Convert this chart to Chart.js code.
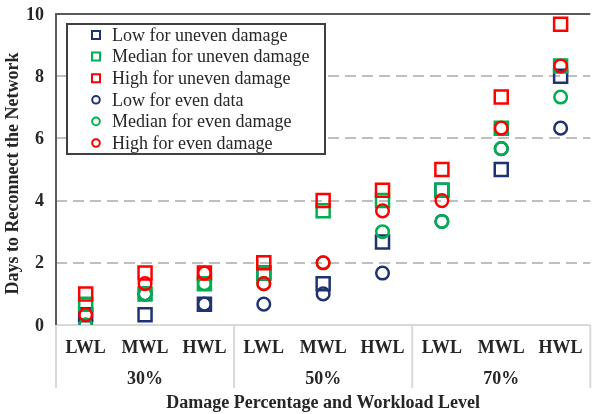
<!DOCTYPE html>
<html><head><meta charset="utf-8">
<script src="https://cdn.jsdelivr.net/npm/chart.js@4"></script>
<style>html,body{margin:0;padding:0;overflow:hidden;background:#fff}#wrap{width:602px;height:414px;position:relative}canvas{display:block}</style>
</head><body><div id="wrap"><canvas id="c" width="602" height="414"></canvas></div>
<script>
// ---- data ----
const categories = ['LWL','MWL','HWL','LWL','MWL','HWL','LWL','MWL','HWL'];
const groups = ['30%','50%','70%'];
const yTicks = [0,2,4,6,8,10];
const seriesNames = ['Low for uneven damage','Median for uneven damage','High for uneven damage','Low for even data','Median for even damage','High for even damage'];
const lowUneven    = [0.33, 0.33, 0.67, 1.67, 1.33, 2.67, 4.33, 5.00, 8.00];
const medianUneven = [0.67, 1.00, 1.33, 1.67, 3.67, 4.00, 4.33, 6.33, 8.33];
const highUneven   = [1.00, 1.67, 1.67, 2.00, 4.00, 4.33, 5.00, 7.33, 9.67];
const lowEven      = [0.00, 1.00, 0.67, 0.67, 1.00, 1.67, 3.33, 5.67, 6.33];
const medianEven   = [0.00, 1.00, 1.33, 1.33, 2.00, 3.00, 3.33, 5.67, 7.33];
const highEven     = [0.33, 1.33, 1.67, 1.33, 2.00, 3.67, 4.00, 6.33, 8.33];
const xTitle = 'Damage Percentage and Workload Level';
const yTitle = 'Days to Reconnect the Network';

// ---- style ----
const BLUE = '#1F3372', GREEN = '#00B050', RED = '#FF0000';
const TXT = '#262626';
const FONT = 'Liberation Serif';
const BOLD = 'bold 18px "' + FONT + '"';
const seriesData = [lowUneven, medianUneven, highUneven, lowEven, medianEven, highEven];
const seriesColor = [BLUE, GREEN, RED, BLUE, GREEN, RED];
const seriesShape = ['rect','rect','rect','circle','circle','circle'];

const datasets = seriesData.map((d, i) => ({
  label: seriesNames[i],
  data: d,
  showLine: false,
  order: 10 - i,
  pointStyle: seriesShape[i],
  pointRadius: seriesShape[i] === 'rect' ? 9.2 : 6.3,
  pointBorderWidth: 2.5,
  pointBorderColor: seriesColor[i],
  pointBackgroundColor: 'rgba(0,0,0,0)',
  borderColor: seriesColor[i]
}));

const decor = {
  id: 'decor',
  beforeDatasetsDraw(chart) {
    const {ctx, chartArea: a} = chart;
    const y = chart.scales.y, x = chart.scales.x;
    const line = (x1, y1, x2, y2) => { ctx.beginPath(); ctx.moveTo(x1, y1); ctx.lineTo(x2, y2); ctx.stroke(); };
    ctx.save();
    ctx.lineWidth = 2;
    ctx.strokeStyle = '#BFBFBF';
    ctx.setLineDash([11, 6]);
    yTicks.forEach(v => { if (v > 0 && v < 10) { const py = Math.round(y.getPixelForValue(v)); line(a.left, py, a.right, py); } });
    ctx.setLineDash([]);
    ctx.strokeStyle = '#D9D9D9';
    line(a.left, a.bottom, a.right, a.bottom);
    for (let g = 0; g <= groups.length; g++) {
      let bx;
      if (g === 0) bx = a.left;
      else if (g === groups.length) bx = a.right;
      else bx = (x.getPixelForValue(g * 3 - 1) + x.getPixelForValue(g * 3)) / 2;
      line(bx, a.bottom, bx, a.bottom + 63);
    }
    ctx.strokeStyle = '#595959';
    line(a.left, y.getPixelForValue(10), a.right, y.getPixelForValue(10));
    line(a.left, a.top - 1, a.left, a.bottom);

    // axis text
    ctx.fillStyle = TXT;
    ctx.font = BOLD;
    ctx.textBaseline = 'middle';
    ctx.textAlign = 'right';
    yTicks.forEach(v => ctx.fillText(String(v), a.left - 12, y.getPixelForValue(v) + 1));
    ctx.textAlign = 'center';
    categories.forEach((c, i) => ctx.fillText(c, x.getPixelForValue(i), a.bottom + 23));
    groups.forEach((g, i) => ctx.fillText(g, x.getPixelForValue(i * 3 + 1), a.bottom + 54));
    ctx.fillText(xTitle, (a.left + a.right) / 2, a.bottom + 78);
    ctx.save();
    ctx.translate(13, (a.top + a.bottom) / 2 + 4);
    ctx.rotate(-Math.PI / 2);
    ctx.fillText(yTitle, 0, 0);
    ctx.restore();
    ctx.restore();
  },
  afterDatasetsDraw(chart) {
    const {ctx, chartArea: a} = chart;
    ctx.save();
    // legend
    const bx = a.left + 11, by = a.top + 10, bw = 258, bh = 130;
    ctx.fillStyle = '#fff';
    ctx.fillRect(bx, by, bw, bh);
    ctx.strokeStyle = '#404040';
    ctx.lineWidth = 2;
    ctx.strokeRect(bx, by, bw, bh);
    ctx.font = '18px "' + FONT + '"';
    ctx.textAlign = 'left';
    ctx.textBaseline = 'middle';
    seriesNames.forEach((n, i) => {
      const cy = by + 11 + i * 21.6;
      const mx = bx + 29;
      ctx.strokeStyle = seriesColor[i];
      ctx.lineWidth = 2;
      ctx.beginPath();
      if (seriesShape[i] === 'rect') ctx.rect(mx - 4, cy - 4, 8, 8);
      else ctx.arc(mx, cy, 3.8, 0, Math.PI * 2);
      ctx.stroke();
      ctx.fillStyle = TXT;
      ctx.fillText(n, bx + 45, cy + 1);
    });
    ctx.restore();
  }
};

new Chart(document.getElementById('c'), {
  type: 'line',
  data: { labels: categories, datasets },
  options: {
    responsive: false,
    animation: false,
    events: [],
    layout: { padding: { top: 14, left: 56, right: 0, bottom: 89 } },
    plugins: { legend: { display: false }, tooltip: { enabled: false } },
    scales: {
      x: {
        type: 'category',
        offset: true,
        display: false
      },
      y: {
        min: 0, max: 10,
        display: false
      }
    }
  },
  plugins: [decor]
});
</script>
</body></html>
